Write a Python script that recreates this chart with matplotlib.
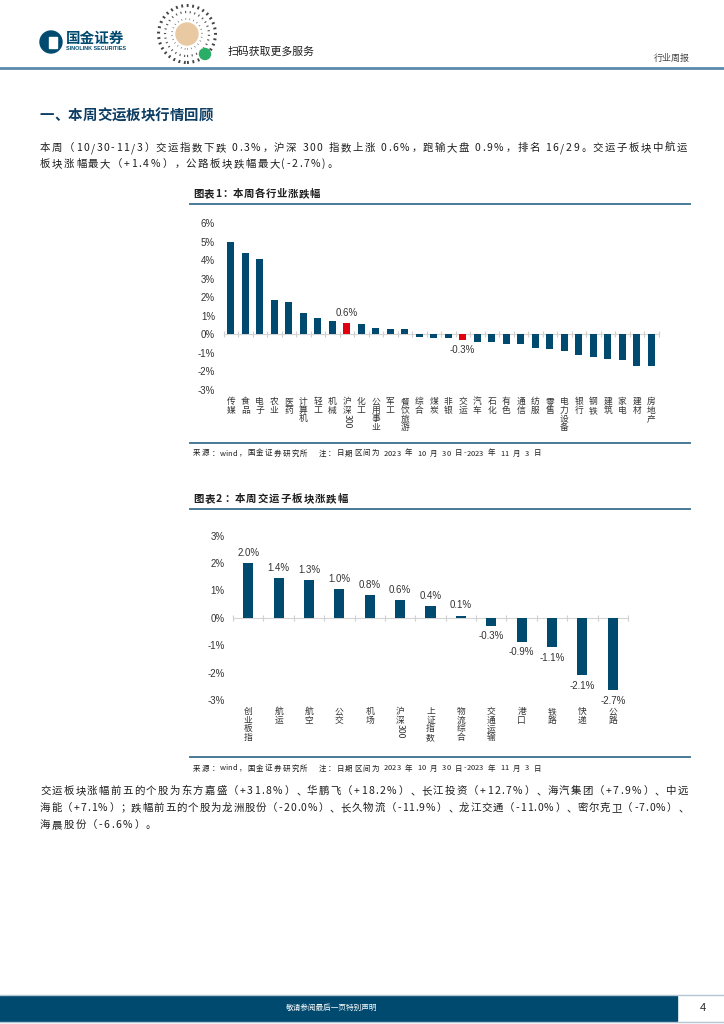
import numpy as np
import matplotlib
matplotlib.use("Agg")
import matplotlib.pyplot as plt
from matplotlib.lines import Line2D
from matplotlib.patches import Circle, Rectangle

plt.rcParams['font.family'] = ['Noto Sans CJK SC', 'DejaVu Sans']

W, H = 724, 1024
NAVY = '#004a70'
RED = '#e0000f'
RULE = '#4a7a9a'
INK = '#1e1e1e'
GREY = '#333333'

# chart 1: weekly change by industry (%)
ind_names = ['传媒', '食品', '电子', '农业', '医药', '计算机', '轻工', '机械', '沪深300', '化工',
             '公用事业', '军工', '餐饮旅游', '综合', '煤炭', '非银', '交运', '汽车', '石化', '有色',
             '通信', '纺服', '零售', '电力设备', '银行', '钢铁', '建筑', '家电', '建材', '房地产']
ind_chg = [4.96, 4.40, 4.05, 1.85, 1.75, 1.15, 0.90, 0.70, 0.60, 0.55,
           0.35, 0.30, 0.30, -0.15, -0.18, -0.18, -0.30, -0.40, -0.40, -0.50,
           -0.50, -0.73, -0.78, -0.90, -1.13, -1.24, -1.33, -1.38, -1.72, -1.72]
ind_red = ['沪深300', '交运']
ind_note = ['0.6%', '-0.3%']
ticks1 = [6, 5, 4, 3, 2, 1, 0, -1, -2, -3]

# chart 2: weekly change by transport sub-sector (%)
sub_names = ['创业板指', '航运', '航空', '公交', '机场', '沪深300', '上证指数', '物流综合',
             '交通运输', '港口', '铁路', '快递', '公路']
sub_chg = [2.0, 1.45, 1.38, 1.05, 0.83, 0.64, 0.43, 0.08, -0.28, -0.87, -1.08, -2.1, -2.65]
sub_note = ['2.0%', '1.4%', '1.3%', '1.0%', '0.8%', '0.6%', '0.4%', '0.1%',
            '-0.3%', '-0.9%', '-1.1%', '-2.1%', '-2.7%']
ticks2 = [3, 2, 1, 0, -1, -2, -3]

para1 = ['本周（10/30-11/3）交运指数下跌 0.3%，沪深 300 指数上涨 0.6%，跑输大盘 0.9%，排名 16/29。交运子板块中航运',
         '板块涨幅最大（+1.4%），公路板块跌幅最大(-2.7%)。']
para2 = ['交运板块涨幅前五的个股为东方嘉盛（+31.8%）、华鹏飞（+18.2%）、长江投资（+12.7%）、海汽集团（+7.9%）、中远',
         '海能（+7.1%）；跌幅前五的个股为龙洲股份（-20.0%）、长久物流（-11.9%）、龙江交通（-11.0%）、密尔克卫（-7.0%）、',
         '海晨股份（-6.6%）。']
source = '来源：wind，国金证券研究所   注：日期区间为 2023 年 10 月 30 日-2023 年 11 月 3 日'

fig = plt.figure(figsize=(W / 100, H / 100), dpi=100)
T = fig.dpi_scale_trans
rend = fig.canvas.get_renderer()


def P(x, y):
    return x / 100, (H - y) / 100


def put(x, y, s, **kw):
    return fig.text(*P(x, y), s, transform=T, **kw)


def rule(y, x0, x1, color=RULE, lw=1.4):
    fig.add_artist(Line2D([x0 / 100, x1 / 100], [(H - y) / 100] * 2, transform=T, color=color, lw=lw))


_adv = {}


def advance(c, fs, kw):
    # advance width of an ascii char, measured as width('0c0') - width('00')
    key = (c, fs, kw.get('fontweight'))
    if key not in _adv:
        a = put(0, 0, '0' + c + '0', fontsize=fs, **kw)
        b = put(0, 0, '00', fontsize=fs, **kw)
        _adv[key] = a.get_window_extent(rend).width - b.get_window_extent(rend).width
        a.remove()
        b.remove()
    return _adv[key]


PUNCT_L = '，。、；：）'
PUNCT_R = '（'


def line_text(y, s, x0, x1=None, fs=7.5, gap=None, tight=False, **kw):
    # one glyph per text, evenly spaced; with x1 given the line is spread over x0..x1
    em = fs * 100 / 72
    widths = []
    for c in s:
        if c == ' ':
            widths.append(0.25 * em)
        elif c.isascii():
            widths.append(advance(c, fs, kw))
        else:
            widths.append(em)
    # tight: no extra spacing inside runs of latin letters / digits
    wts = [0 if tight and a.isascii() and b.isascii() and a != ' ' and b != ' ' else 1
           for a, b in zip(s[:-1], s[1:])] + [0]
    if x1 is not None:
        gap = (x1 - x0 - sum(widths)) / sum(wts)
    x = x0
    for c, w, k in zip(s, widths, wts):
        if c == ' ':
            pass
        elif c in PUNCT_L:
            put(x + 0.08 * em, y, c, fontsize=fs, va='baseline', ha='left', **kw)
        elif c in PUNCT_R:
            put(x + w - 0.05 * em, y, c, fontsize=fs, va='baseline', ha='right', **kw)
        else:
            put(x + w / 2, y, c, fontsize=fs, va='baseline', ha='center', **kw)
        x += w + gap * k
    return gap


# ---- header ----
fig.add_artist(Circle(P(51, 42), 0.11, transform=T, color=NAVY))
fig.add_artist(Rectangle(P(49, 48), 0.08, 0.11, transform=T, color='white'))
put(66, 38, '国金证券', fontsize=10.5, fontweight='bold', color=NAVY, va='center')
put(66, 49, 'SINOLINK SECURITIES', fontsize=3.9, fontweight='bold', color=NAVY, va='center',
    family=['Liberation Sans'])
fig.add_artist(Circle(P(187, 34), 0.285, transform=T, fill=False, ec='#444444', lw=2.2, ls=(0, (0.6, 1.2))))
fig.add_artist(Circle(P(187, 34), 0.22, transform=T, fill=False, ec='#555555', lw=1.6, ls=(0, (0.5, 1.6))))
fig.add_artist(Circle(P(187, 34), 0.15, transform=T, fill=False, ec='#666666', lw=1.2, ls=(0, (0.4, 2.0))))
fig.add_artist(Circle(P(187, 34), 0.11, transform=T, color='#e9c9a2'))
fig.add_artist(Circle(P(205, 54), 0.055, transform=T, color='#2aae67'))
put(228, 52, '扫码获取更多服务', fontsize=7.8, color=INK, va='center')
put(690, 58, '行业周报', fontsize=6.5, color='#444444', va='center', ha='right')
rule(67.5, 0, 724, color='#5b8bab', lw=2)

# ---- section title and first paragraph ----
line_text(120, '一、本周交运板块行情回顾', 39, 213, fs=10.4, fontweight='bold', color='#0d3d63')
g = line_text(151, para1[0], 40, 687, fs=7.5, color=INK)
line_text(167, para1[1], 40, fs=7.5, gap=g, color=INK)

# ---- chart 1 ----
line_text(197, '图表1：本周各行业涨跌幅', 193, 320, fs=7.5, fontweight='bold', color=INK)
rule(204, 190, 690)


def draw_bars(ax, names, vals, width, reds, lo, hi, ticks):
    x = np.arange(len(names))
    colors = [RED if n in reds else NAVY for n in names]
    ax.bar(x, vals, width=width, color=colors, zorder=3)
    ax.set_xlim(-0.5, len(names) - 0.5)
    ax.set_ylim(lo, hi)
    ax.set_yticks(ticks)
    ax.set_yticklabels([f'{t}%' for t in ticks], family=['Liberation Sans'], fontsize=7, color=GREY)
    ax.set_xticks(np.arange(-0.5, len(names), 1))
    ax.tick_params(axis='x', direction='inout', length=4, color='#cfcfcf', labelbottom=False)
    ax.tick_params(axis='y', length=0, pad=6)
    for s in ['top', 'right', 'left']:
        ax.spines[s].set_visible(False)
    ax.spines['bottom'].set_position(('data', 0))
    ax.spines['bottom'].set_color('#d4d4d4')
    ax.spines['bottom'].set_zorder(2)
    ax.patch.set_alpha(0)
    for xi, n in zip(x, names):
        off = 5.0
        run = ''
        parts = []
        for c in n:
            if c.isascii():
                run += c
            else:
                if run:
                    parts.append(run)
                    run = ''
                parts.append(c)
        if run:
            parts.append(run)
        for t in parts:
            if t.isascii():
                ax.annotate(t, (xi, 0), xycoords=('data', 'axes fraction'), xytext=(0, -off),
                            textcoords='offset points', rotation=270, ha='center', va='top',
                            fontsize=6.3, color=GREY)
                off += len(t) * 6.3 * 0.56
            else:
                ax.annotate(t, (xi, 0), xycoords=('data', 'axes fraction'), xytext=(0, -off),
                            textcoords='offset points', ha='center', va='top',
                            fontsize=6.3, color=GREY)
                off += 6.3
    return x


ax1 = fig.add_axes([223.5 / W, 1 - 390 / H, 435 / W, 167 / H])
draw_bars(ax1, ind_names, ind_chg, 0.47, ind_red, -3, 6, ticks1)
for n, s in zip(ind_red, ind_note):
    i = ind_names.index(n)
    v = ind_chg[i]
    ax1.annotate(s, (i, v), xytext=(0, 4 if v > 0 else -4), textcoords='offset points',
                 ha='center', va='bottom' if v > 0 else 'top', fontsize=7,
                 family=['Liberation Sans'], color=GREY)

rule(443, 190, 690)
line_text(455.5, source, 193, 541, fs=5.4, tight=True, color=INK)

# ---- chart 2 ----
line_text(502, '图表2：本周交运子板块涨跌幅', 193, 348, fs=7.5, fontweight='bold', color=INK)
rule(509, 190, 690)

ax2 = fig.add_axes([233 / W, 1 - 700 / H, 395 / W, 164.3 / H])
draw_bars(ax2, sub_names, sub_chg, 0.33, [], -3, 3, ticks2)
for i, (v, s) in enumerate(zip(sub_chg, sub_note)):
    ax2.annotate(s, (i, v), xytext=(0, 4 if v > 0 else -4), textcoords='offset points',
                 ha='center', va='bottom' if v > 0 else 'top', fontsize=7,
                 family=['Liberation Sans'], color=GREY)

rule(757, 190, 690)
line_text(770.5, source, 193, 541, fs=5.4, tight=True, color=INK)

# ---- stock paragraph ----
g = line_text(794, para2[0], 40, 688, fs=7.5, color=INK)
line_text(811, para2[1], 40, 688, fs=7.5, color=INK)
line_text(828, para2[2], 40, fs=7.5, gap=g, color=INK)

# ---- footer ----
fig.add_artist(Rectangle(P(0, 1021), 6.77, 0.25, transform=T, color='#00496f'))
rule(995, 0, 724, color='#b4c6d3', lw=1)
rule(1022, 0, 724, color='#b4c6d3', lw=1)
put(332, 1008, '敬请参阅最后一页特别声明', fontsize=5.5, color='white', ha='center', va='center')
put(703, 1008, '4', fontsize=8, color=INK, ha='center', va='center', family=['Liberation Sans'])

fig.savefig('out.png', dpi=100, facecolor='white')
